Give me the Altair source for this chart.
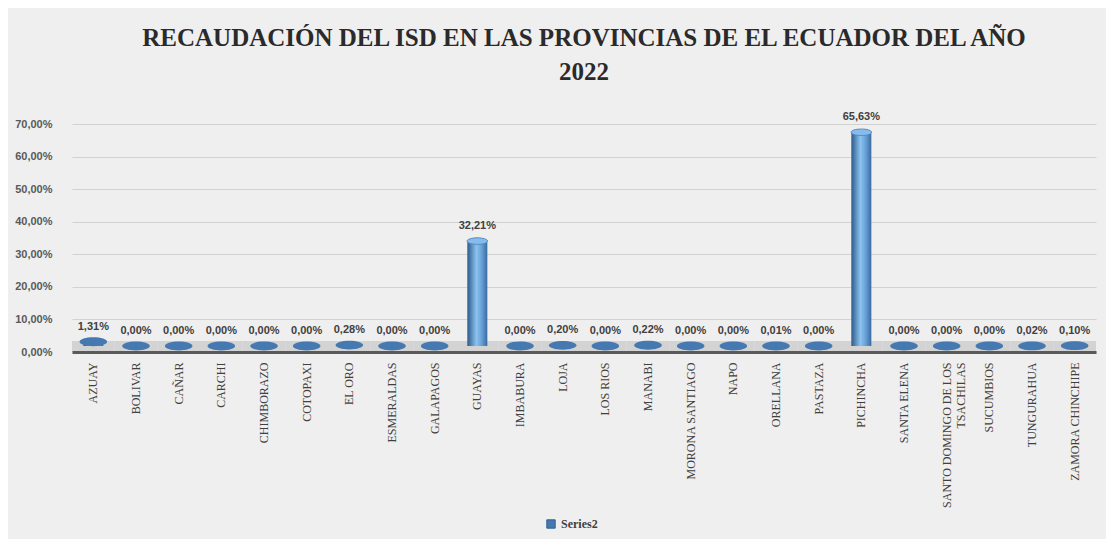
import altair as alt
import pandas as pd

provincias = ["AZUAY", "BOLIVAR", "CAÑAR", "CARCHI", "CHIMBORAZO", "COTOPAXI", "EL ORO",
              "ESMERALDAS", "GALAPAGOS", "GUAYAS", "IMBABURA", "LOJA", "LOS RIOS", "MANABI",
              "MORONA SANTIAGO", "NAPO", "ORELLANA", "PASTAZA", "PICHINCHA", "SANTA ELENA",
              "SANTO DOMINGO DE LOS TSACHILAS", "SUCUMBIOS", "TUNGURAHUA", "ZAMORA CHINCHIPE"]
valores = [1.31, 0.00, 0.00, 0.00, 0.00, 0.00, 0.28, 0.00, 0.00, 32.21, 0.00, 0.20, 0.00, 0.22,
           0.00, 0.00, 0.01, 0.00, 65.63, 0.00, 0.00, 0.00, 0.02, 0.10]
serie = "Series2"
y_ticks = [0, 10, 20, 30, 40, 50, 60, 70]

df = pd.DataFrame({"provincia": provincias, "valor": valores, "serie": serie})

x_axis = alt.Axis(labelAngle=-90, labelFont="Liberation Serif", labelFontSize=12,
                  labelColor="#404040", labelPadding=10, ticks=False,
                  domainColor="#5a5a5a", domainWidth=3, grid=False, labelLimit=300,
                  labelExpr="datum.label == 'SANTO DOMINGO DE LOS TSACHILAS' ? ['SANTO DOMINGO DE LOS', 'TSACHILAS'] : datum.label")
y_axis = alt.Axis(values=y_ticks, labelFont="Liberation Sans", labelFontSize=11,
                  labelFontWeight="bold", labelColor="#595959", labelPadding=20,
                  ticks=False, domain=False, grid=True, gridColor="#d2d2d2", gridWidth=1.2,
                  labelOverlap=False,
                  labelExpr="replace(format(datum.value, '.2f'), '.', ',') + '%'")
x_scale = alt.Scale(paddingInner=0, paddingOuter=0)
y_scale = alt.Scale(domain=[0, 70], nice=False)

x_enc = alt.X("provincia:N", sort=provincias, title=None, scale=x_scale, axis=x_axis)
y_enc = alt.Y("valor:Q", title=None, scale=y_scale, axis=y_axis)

base = alt.Chart(df)

floor = base.mark_rect(color="#d3d3d3", y2Offset=-11).encode(
    x=x_enc, y=alt.Y(datum=0, scale=y_scale, axis=y_axis, title=None), y2=alt.datum(0))

grad = alt.Gradient(gradient="linear", x1=0, x2=1, y1=0, y2=0,
                    stops=[alt.GradientStop(offset=0, color="#2c5a88"),
                           alt.GradientStop(offset=0.45, color="#8cc2f0"),
                           alt.GradientStop(offset=0.7, color="#6aa3da"),
                           alt.GradientStop(offset=1, color="#3a6b9e")])

bars = base.mark_bar(size=20, fill=grad, yOffset=-6).encode(x=x_enc, y=y_enc)

ellipse = "M -1 0 A 1 0.32 0 1 1 1 0 A 1 0.32 0 1 1 -1 0 Z"
caps = base.mark_point(shape=ellipse, filled=True, opacity=1, yOffset=-6).encode(
    x=x_enc, y=y_enc,
    color=alt.Color("serie:N", scale=alt.Scale(range=["#4679b0"]),
                    legend=alt.Legend(title=None, orient="none", legendX=473, legendY=394,
                                      symbolType="square",
                                      symbolSize=70, symbolStrokeColor="#2f5f90",
                                      symbolStrokeWidth=1, symbolFillColor="#5b9bd5",
                                      labelFont="Liberation Serif", labelFontSize=12,
                                      labelFontWeight="bold", labelColor="#404040")),
    size=alt.condition("datum.valor > 5", alt.value(420), alt.value(760)))

top_caps = base.mark_point(shape=ellipse, filled=True, opacity=1, yOffset=-6,
                           color="#86bbeb", stroke="#4f86bd", strokeWidth=0.8).encode(
    x=x_enc, y=y_enc, size=alt.value(420)).transform_filter("datum.valor > 5")

labels = base.mark_text(font="Liberation Sans", fontSize=11, fontWeight="bold",
                        color="#404040", yOffset=-21).encode(
    x=x_enc, y=y_enc,
    text=alt.Text("label:N"))
labels = labels.transform_calculate(
    label="replace(format(datum.valor, '.2f'), '.', ',') + '%'")

chart = alt.layer(floor, bars, caps, top_caps, labels).properties(
    width=1024, height=228,
    title=alt.TitleParams(
        ["RECAUDACIÓN DEL ISD EN LAS PROVINCIAS DE EL ECUADOR DEL AÑO", "2022"],
        font="Liberation Serif", fontSize=25, fontWeight="bold", color="#2a2a2a",
        lineHeight=34, anchor="middle", offset=26),
    background="#efefef",
    padding={"left": 6, "right": 10, "top": 18, "bottom": 8},
).configure_view(stroke=None)

chart.save("out.html", embed_options={"renderer": "svg", "actions": False})
